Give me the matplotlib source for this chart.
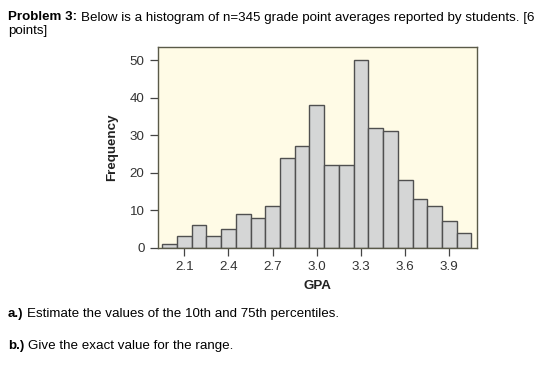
import matplotlib
matplotlib.use('Agg')
import matplotlib.pyplot as plt

# ========== DATA ==========

gpa_centers = [2.0, 2.1, 2.2, 2.3, 2.4, 2.5, 2.6, 2.7, 2.8, 2.9, 3.0,
               3.1, 3.2, 3.3, 3.4, 3.5, 3.6, 3.7, 3.8, 3.9, 4.0]
counts = [1, 3, 6, 3, 5, 9, 8, 11, 24, 27, 38,
          22, 22, 50, 32, 31, 18, 13, 11, 7, 4]
x_ticks = [2.1, 2.4, 2.7, 3.0, 3.3, 3.6, 3.9]
y_ticks = [0, 10, 20, 30, 40, 50]

plt.rcParams['font.family'] = ['Liberation Sans', 'DejaVu Sans']

W, H = 555, 369
fig = plt.figure(figsize=(W / 100, H / 100), dpi=100)

# axes box in pixels (left, top, right, bottom)
L, T, R, B = 157.5, 47.3, 477.3, 247.7
ax = fig.add_axes([L / W, 1 - B / H, (R - L) / W, (B - T) / H])
ax.set_facecolor('#fffbe6')

ax.bar(gpa_centers, counts, width=0.1, color='#d5d6d6',
       edgecolor='#505050', linewidth=1.0, zorder=2)

ax.set_xlim(1.918, 4.09)
ax.set_ylim(0, 53.4)
ax.set_xticks(x_ticks)
ax.set_xticklabels([f"{t:.1f}" for t in x_ticks])
ax.set_yticks(y_ticks)
ax.tick_params(axis='both', direction='out', length=5.8, width=0.9,
               color='#444444', labelcolor='#333333', labelsize=9.6, pad=3.5)
for s in ax.spines.values():
    s.set_color('#5a5a48')
    s.set_linewidth(1.0)

ax.set_xlabel('GPA', fontsize=9.6, fontweight='bold', color='#222222', labelpad=5)
ax.set_ylabel('Frequency', fontsize=9.6, fontweight='bold', color='#222222', labelpad=8)

# ========== TEXT ==========

fs = 9.6
renderer = fig.canvas.get_renderer()


def bold_then_plain(x_px, y_px, bold, plain):
    t = fig.text(x_px / W, 1 - y_px / H, bold, fontsize=fs, fontweight='bold', va='baseline')
    bb = t.get_window_extent(renderer)
    fig.text((bb.x1 + 3.5) / W, 1 - y_px / H, plain, fontsize=fs, va='baseline')


bold_then_plain(8, 20.5, "Problem 3:",
                "Below is a histogram of n=345 grade point averages reported by students. [6")
fig.text(8 / W, 1 - 34 / H, "points]", fontsize=fs, va='baseline')

bold_then_plain(8, 317, "a.)", "Estimate the values of the 10th and 75th percentiles.")
bold_then_plain(8, 349, "b.)", "Give the exact value for the range.")

fig.savefig('out.png', dpi=100)
